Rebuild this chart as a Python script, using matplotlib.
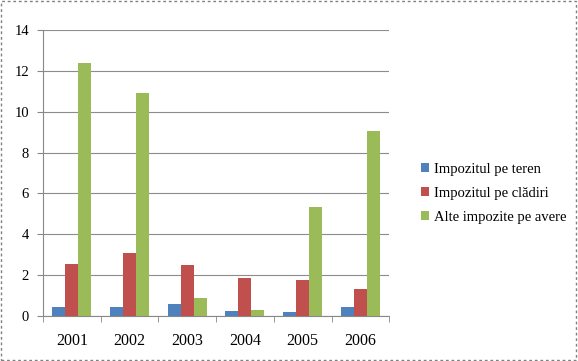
import matplotlib
matplotlib.use('Agg')

import numpy as np
import matplotlib.pyplot as plt
from matplotlib.patches import Rectangle

# date
years = ['2001', '2002', '2003', '2004', '2005', '2006']
teren = [0.45, 0.42, 0.6, 0.26, 0.2, 0.45]
cladiri = [2.55, 3.07, 2.52, 1.84, 1.76, 1.32]
alte = [12.38, 10.92, 0.88, 0.28, 5.33, 9.08]
series_names = ['Impozitul pe teren', 'Impozitul pe clădiri', 'Alte impozite pe avere']
colors = ['#4F81BD', '#C0504D', '#9BBB59']

plt.rcParams['font.family'] = ['Liberation Serif', 'DejaVu Serif']

fig = plt.figure(figsize=(5.78, 3.61), dpi=100, facecolor='white')

# chenar punctat
frame = Rectangle((0.002, 0.003), 0.995, 0.993, transform=fig.transFigure,
                  facecolor='none', edgecolor='#808080', linestyle=(0, (2, 2)),
                  linewidth=1.0, zorder=10)
fig.patches.append(frame)

ax = fig.add_axes([0.0744, 0.1247, 0.599, 0.792])
ax.patch.set_alpha(0)

x = np.arange(len(years))
w = 0.225
for i, (vals, name, c) in enumerate(zip([teren, cladiri, alte], series_names, colors)):
    ax.bar(x + (i - 1) * w, vals, width=w, color=c, label=name,
           edgecolor='none', zorder=3)

ax.set_xlim(-0.5, len(years) - 0.5)
ax.set_ylim(0, 14)
ax.set_yticks(range(0, 15, 2))
ax.set_xticks(x)
ax.set_xticklabels(years)
ax.set_xticks(np.arange(-0.5, len(years), 1), minor=True)
ax.tick_params(axis='x', which='major', length=0, pad=12, labelsize=11.5)
ax.tick_params(axis='x', which='minor', length=4, color='#888888', direction='out')
ax.tick_params(axis='y', length=4, color='#888888', labelsize=10.5, pad=6)

ax.grid(axis='y', color='#8c8c8c', linewidth=0.8, zorder=0)
ax.set_axisbelow(True)
for s in ['top', 'right']:
    ax.spines[s].set_visible(False)
for s in ['left', 'bottom']:
    ax.spines[s].set_color('#888888')
    ax.spines[s].set_linewidth(0.8)

fig.legend(loc='upper left', bbox_to_anchor=(0.705, 0.585), frameon=False,
           fontsize=10.5, handlelength=0.6, handleheight=0.6, handletextpad=0.3,
           labelspacing=0.75)

fig.savefig('out.png', dpi=100, facecolor='white')
